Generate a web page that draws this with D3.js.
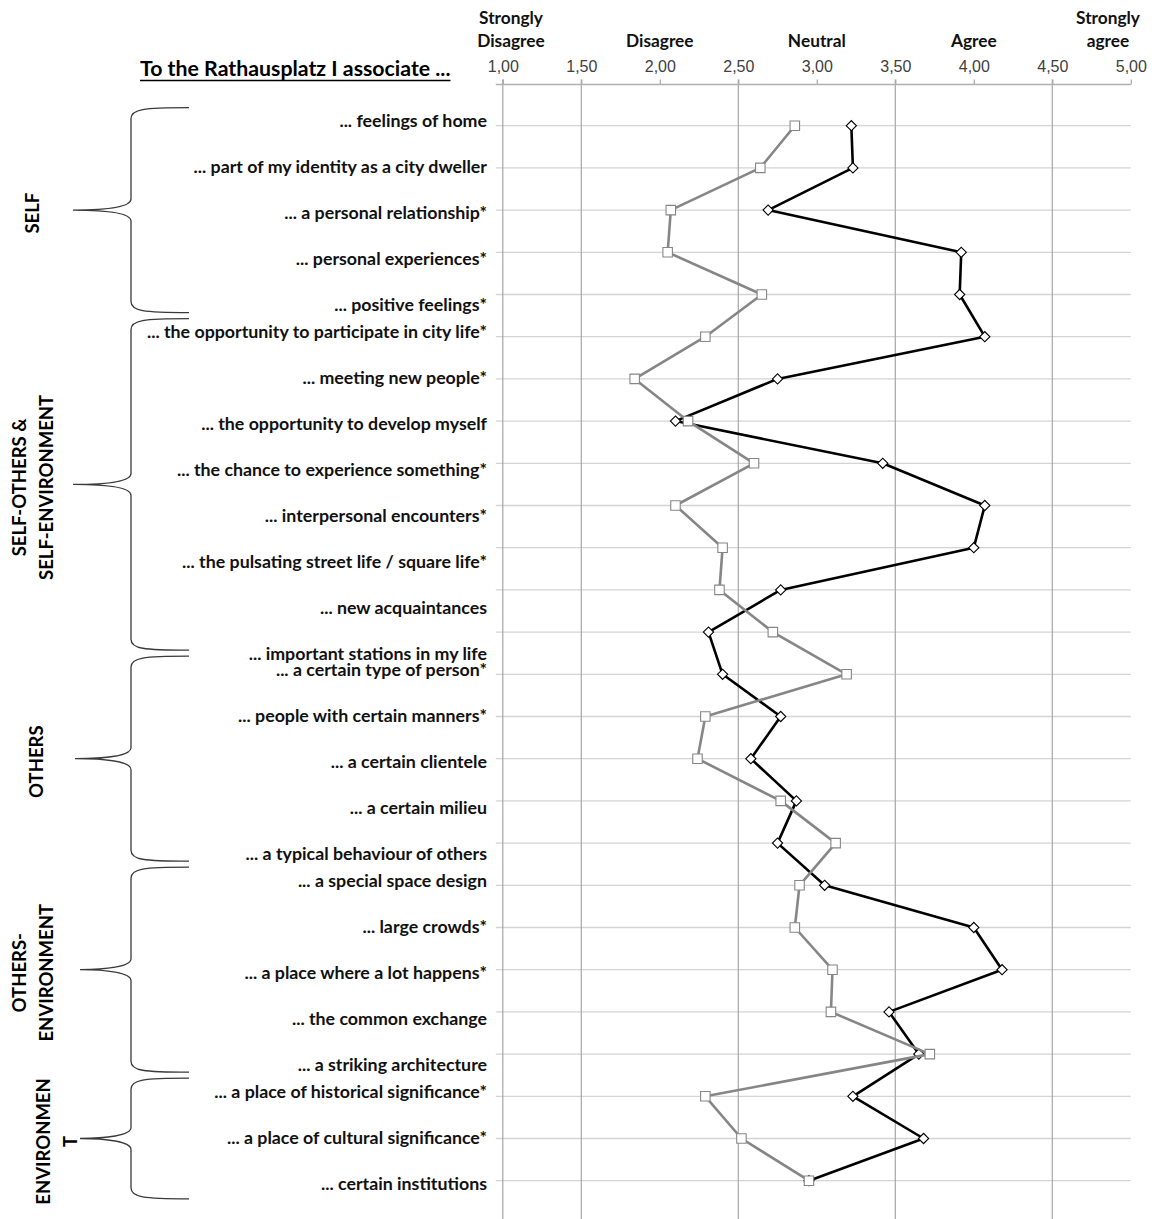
<!DOCTYPE html>
<html>
<head>
<meta charset="utf-8">
<script src="https://cdn.jsdelivr.net/npm/d3@7/dist/d3.min.js"></script>
<style>
  body { margin: 0; background: #fff; }
  svg { display: block; }
</style>
</head>
<body>
<div id="chart"></div>
<script>
// ---------------- DATA ----------------
var titleText = "To the Rathausplatz I associate ...";

var items = [
  "... feelings of home",
  "... part of my identity as a city dweller",
  "... a personal relationship*",
  "... personal experiences*",
  "... positive feelings*",
  "... the opportunity to participate in city life*",
  "... meeting new people*",
  "... the opportunity to develop myself",
  "... the chance to experience something*",
  "... interpersonal encounters*",
  "... the pulsating street life / square life*",
  "... new acquaintances",
  "... important stations in my life",
  "... a certain type of person*",
  "... people with certain manners*",
  "... a certain clientele",
  "... a certain milieu",
  "... a typical behaviour of others",
  "... a special space design",
  "... large crowds*",
  "... a place where a lot happens*",
  "... the common exchange",
  "... a striking architecture",
  "... a place of historical significance*",
  "... a place of cultural significance*",
  "... certain institutions"
];

var groupLines = [
  ["SELF"],
  ["SELF-OTHERS &", "SELF-ENVIRONMENT"],
  ["OTHERS"],
  ["OTHERS-", "ENVIRONMENT"],
  ["ENVIRONMEN", "T"]
];
var groupSizes = [5, 8, 5, 5, 3];

// black line, diamond markers
var seriesBlack = [3.22, 3.23, 2.69, 3.92, 3.91, 4.07, 2.75, 2.10, 3.42, 4.07, 4.00, 2.77, 2.31,
                   2.40, 2.77, 2.58, 2.87, 2.75, 3.05, 4.00, 4.18, 3.46, 3.65, 3.23, 3.68, 2.95];
// grey line, square markers
var seriesGray  = [2.86, 2.64, 2.07, 2.05, 2.65, 2.29, 1.84, 2.18, 2.60, 2.10, 2.40, 2.38, 2.72,
                   3.19, 2.29, 2.24, 2.77, 3.12, 2.89, 2.86, 3.10, 3.09, 3.72, 2.29, 2.52, 2.95];

var tickValues = [1, 1.5, 2, 2.5, 3, 3.5, 4, 4.5, 5];
var gridValues = [1, 1.5, 2.5, 3.5, 4.5];
var scaleLabels = [["Strongly", "Disagree"], ["Disagree"], ["Neutral"], ["Agree"], ["Strongly", "agree"]];
var scaleLabelValues = [1, 2, 3, 4, 5];

// ---------------- LAYOUT ----------------
var svgWidth = 1157, svgHeight = 1219;
var axisY = 84.5;
var labelRight = 487;
var labelStep = 46;
var groupLabelX = [33, 33, 37, 33, 57];
var braceCuspX = [73, 73, 75, 80, 80];
var boldFont = "Lato, 'Open Sans', sans-serif";

var svg = d3.select("#chart")
    .append("svg")
    .attr("width", svgWidth)
    .attr("height", svgHeight);

var x = d3.scaleLinear().domain([1, 5]).range([502.8, 1130.8]);
var y = d3.scalePoint().domain(d3.range(items.length)).range([125.7, 1180.7]);

// horizontal grid lines (one per item)
svg.append("g").selectAll("line")
    .data(items)
    .enter().append("line")
    .attr("x1", x(1) - 7).attr("x2", x(5))
    .attr("y1", function (d, i) { return y(i); })
    .attr("y2", function (d, i) { return y(i); })
    .style("stroke", "#d4d4d4")
    .style("stroke-width", 1.3);

// vertical grid lines
svg.append("g").selectAll("line")
    .data(gridValues)
    .enter().append("line")
    .attr("x1", function (d) { return x(d); })
    .attr("x2", function (d) { return x(d); })
    .attr("y1", axisY - 5).attr("y2", svgHeight)
    .style("stroke", "#a6a6a6")
    .style("stroke-width", 1.2);

// top value axis
var xAxis = d3.axisTop(x)
    .tickValues(tickValues)
    .tickSizeInner(5)
    .tickSizeOuter(0)
    .tickPadding(8)
    .tickFormat(function (d) { return d.toFixed(2).replace(".", ","); });

var axisG = svg.append("g")
    .attr("transform", "translate(0," + axisY + ")")
    .call(xAxis);
axisG.select(".domain").remove();
axisG.append("line")
    .attr("x1", x(1) - 7).attr("x2", x(5))
    .style("stroke", "#b0b0b0").style("stroke-width", 1.3);
axisG.selectAll(".tick line").style("stroke", "#a6a6a6").style("stroke-width", 1.2);
axisG.selectAll(".tick text")
    .style("font-family", "'Liberation Sans', Arial, sans-serif")
    .style("font-size", "16px")
    .style("fill", "#404040");

// likert scale headings
scaleLabels.forEach(function (lines, i) {
    var cx = Math.max(511, Math.min(1108, x(scaleLabelValues[i])));
    var t = svg.append("text")
        .attr("text-anchor", "middle")
        .style("font-family", boldFont)
        .style("font-weight", "bold")
        .style("font-size", "17.3px")
        .style("fill", "#111");
    lines.forEach(function (line, k) {
        t.append("tspan")
            .attr("x", cx)
            .attr("y", 47 - (lines.length - 1 - k) * 23)
            .text(line);
    });
});

// title, underlined
var title = svg.append("text")
    .attr("x", 140).attr("y", 76)
    .style("font-family", boldFont)
    .style("font-weight", "bold")
    .style("font-size", "21.3px")
    .style("fill", "#000")
    .text(titleText);
var tb = title.node().getBBox();
svg.append("line")
    .attr("x1", tb.x).attr("x2", tb.x + tb.width)
    .attr("y1", 80.5).attr("y2", 80.5)
    .style("stroke", "#000").style("stroke-width", 1.6);

// groups: braces, group labels, item labels
function bracePath(top, bot, tipX, barX, cuspX) {
    var mid = (top + bot) / 2, r = 11;
    return "M" + tipX + "," + top +
        " C" + (barX + 12) + "," + top + " " + barX + "," + (top + 1.5) + " " + barX + "," + (top + r) +
        " L" + barX + "," + (mid - r) +
        " C" + barX + "," + (mid - 3) + " " + (barX - 25) + "," + mid + " " + cuspX + "," + mid +
        " C" + (barX - 25) + "," + mid + " " + barX + "," + (mid + 3) + " " + barX + "," + (mid + r) +
        " L" + barX + "," + (bot - r) +
        " C" + barX + "," + (bot - 1.5) + " " + (barX + 12) + "," + bot + " " + tipX + "," + bot;
}

var step = y.step();
var start = 0;
groupSizes.forEach(function (n, g) {
    var first = start, last = start + n - 1;
    var top = y(first) - step / 2 + 3;
    var bot = y(last) + step / 2 - 3;
    var mid = (top + bot) / 2;

    svg.append("path")
        .attr("d", bracePath(top, bot, 189, 131, braceCuspX[g]))
        .style("fill", "none")
        .style("stroke", "#3a3a3a")
        .style("stroke-width", 1.3);

    var lines = groupLines[g];
    lines.forEach(function (line, k) {
        var lx = groupLabelX[g] + (k - (lines.length - 1) / 2) * 27;
        svg.append("text")
            .attr("transform", "translate(" + lx + "," + (mid + 3) + ") rotate(-90)")
            .attr("text-anchor", "middle")
            .attr("dy", "0.35em")
            .style("font-family", boldFont)
            .style("font-weight", "bold")
            .style("font-size", "18.5px")
            .style("fill", "#000")
            .text(line);
    });

    d3.range(first, last + 1).forEach(function (i, k) {
        svg.append("text")
            .attr("x", labelRight)
            .attr("y", y(first) - 5 + k * labelStep)
            .attr("dy", "0.35em")
            .attr("text-anchor", "end")
            .style("font-family", boldFont)
            .style("font-weight", "bold")
            .style("font-size", "17.8px")
            .style("fill", "#111")
            .text(items[i]);
    });
    start += n;
});

// series lines and markers
var line = d3.line()
    .x(function (d) { return x(d); })
    .y(function (d, i) { return y(i); });

function drawSeries(values, colour, symbolType, size, rotate) {
    svg.append("path")
        .datum(values)
        .attr("d", line)
        .style("fill", "none")
        .style("stroke", colour)
        .style("stroke-width", 2.6)
        .style("stroke-linejoin", "round");
    svg.append("g").selectAll("path")
        .data(values)
        .enter().append("path")
        .attr("d", d3.symbol().type(symbolType).size(size))
        .attr("transform", function (d, i) {
            return "translate(" + x(d) + "," + y(i) + ") rotate(" + rotate + ")";
        })
        .style("fill", "#fff")
        .style("stroke", colour)
        .style("stroke-width", 1.1);
}

drawSeries(seriesBlack, "#000", d3.symbolSquare, 52, 45);
drawSeries(seriesGray, "#868686", d3.symbolSquare, 90, 0);
</script>
</body>
</html>
